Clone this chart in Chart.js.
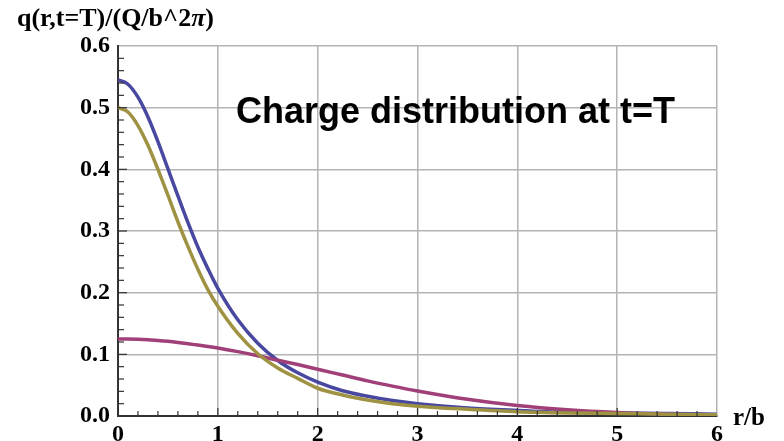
<!DOCTYPE html>
<html>
<head>
<meta charset="utf-8">
<title>Charge distribution at t=T</title>
<script src="https://cdn.jsdelivr.net/npm/chart.js@4.4.1/dist/chart.umd.min.js"></script>
<style>
  html, body { margin: 0; padding: 0; background: #fff; }
  canvas { display: block; }
</style>
</head>
<body>
<canvas id="chargeChart" width="784" height="441"></canvas>
<script>
// -------------------------------------
// Data (r/b vs q)
// -------------------------------------
const rValues = [0, 0.1, 0.2, 0.3, 0.4, 0.5, 0.6, 0.7, 0.8, 0.9, 1.0, 1.2, 1.4, 1.6, 1.8, 2.0,
  2.25, 2.5, 2.75, 3.0, 3.5, 4.0, 4.5, 5.0, 5.5, 6.0];

const blueValues = [0.545, 0.538, 0.517, 0.485, 0.445, 0.401, 0.357, 0.314, 0.274, 0.239, 0.207,
  0.156, 0.118, 0.090, 0.070, 0.055,
  0.041, 0.032, 0.025, 0.020, 0.013, 0.009, 0.006, 0.005, 0.004, 0.003];

const goldValues = [0.500, 0.493, 0.471, 0.439, 0.400, 0.358, 0.315, 0.275, 0.238, 0.205, 0.178,
  0.134, 0.101, 0.078, 0.061, 0.045,
  0.034, 0.026, 0.020, 0.016, 0.011, 0.007, 0.005, 0.004, 0.003, 0.002];

const purpleValues = [0.1250, 0.1248, 0.1244, 0.1236, 0.1225, 0.1211, 0.1193, 0.1172, 0.1150, 0.1128, 0.1103,
  0.1044, 0.0978, 0.0904, 0.0834, 0.0758,
  0.0664, 0.0570, 0.0485, 0.0406, 0.0271, 0.0169, 0.0100, 0.0055, 0.0028, 0.0014];

const xTicks = [0, 1, 2, 3, 4, 5, 6];
const yTicks = [0.0, 0.1, 0.2, 0.3, 0.4, 0.5, 0.6];

const xMinorPerMajor = 5;   // minor tick every 0.2
const yMinorPerMajor = 5;   // minor tick every 0.02

function toPoints(ys) {
  return rValues.map((r, i) => ({ x: r, y: ys[i] }));
}

const serif = "'Liberation Serif', 'Times New Roman', serif";
const sans = "'Liberation Sans', Arial, sans-serif";

// -------------------------------------
// Extra drawing: minor ticks + texts
// -------------------------------------
const decorations = {
  id: "decorations",
  afterDatasetsDraw(chart) {
    const ctx = chart.ctx;
    const xs = chart.scales.x;
    const ys = chart.scales.y;
    const area = chart.chartArea;

    ctx.save();
    ctx.strokeStyle = "#333";
    ctx.lineWidth = 1.2;

    // bottom axis ticks (pointing up)
    for (let i = 0; i < xTicks.length - 1; i++) {
      for (let k = 0; k < xMinorPerMajor; k++) {
        const v = xTicks[i] + (xTicks[i + 1] - xTicks[i]) * k / xMinorPerMajor;
        const px = xs.getPixelForValue(v);
        const len = k === 0 ? 8 : 5;
        ctx.beginPath();
        ctx.moveTo(px, area.bottom);
        ctx.lineTo(px, area.bottom - len);
        ctx.stroke();
      }
    }

    // left axis ticks (pointing right)
    for (let i = 0; i < yTicks.length - 1; i++) {
      for (let k = 0; k < yMinorPerMajor; k++) {
        const v = yTicks[i] + (yTicks[i + 1] - yTicks[i]) * k / yMinorPerMajor;
        const py = ys.getPixelForValue(v);
        const len = k === 0 ? 9 : 6;
        ctx.beginPath();
        ctx.moveTo(area.left, py);
        ctx.lineTo(area.left + len, py);
        ctx.stroke();
      }
    }

    // y axis title
    ctx.fillStyle = "#000";
    ctx.textBaseline = "alphabetic";
    ctx.textAlign = "left";
    let tx = 17;
    const ty = 26;
    ctx.font = "bold 26px " + serif;
    const head = "q(r,t=T)/(Q/b^2";
    ctx.fillText(head, tx, ty);
    tx += ctx.measureText(head).width;
    ctx.font = "italic bold 26px " + serif;
    ctx.fillText("\u03C0", tx, ty);
    tx += ctx.measureText("\u03C0").width;
    ctx.font = "bold 26px " + serif;
    ctx.fillText(")", tx, ty);

    // x axis title
    ctx.font = "bold 25px " + serif;
    ctx.fillText("r/b", 733, 425);

    // plot label
    ctx.font = "bold 36px " + sans;
    ctx.fillText("Charge distribution at t=T", 236, 123);

    ctx.restore();
  }
};

const ctx = document.getElementById("chargeChart");

const chargeChart = new Chart(ctx, {
  type: "line",
  data: {
    datasets: [
      {
        label: "gold",
        data: toPoints(goldValues),
        borderColor: "#9f9243",
        borderWidth: 3.5,
        pointRadius: 0,
        cubicInterpolationMode: "monotone",
        fill: false
      },
      {
        label: "purple",
        data: toPoints(purpleValues),
        borderColor: "#a13f78",
        borderWidth: 3.5,
        pointRadius: 0,
        cubicInterpolationMode: "monotone",
        fill: false
      },
      {
        label: "blue",
        data: toPoints(blueValues),
        borderColor: "#4848a0",
        borderWidth: 3.5,
        pointRadius: 0,
        cubicInterpolationMode: "monotone",
        fill: false
      }
    ]
  },
  options: {
    responsive: false,
    animation: false,
    layout: {
      padding: { top: 46, right: 67, left: 0, bottom: 0 }
    },
    plugins: {
      legend: { display: false },
      tooltip: { enabled: false }
    },
    scales: {
      x: {
        type: "linear",
        min: 0,
        max: 6,
        afterBuildTicks: (scale) => {
          scale.ticks = xTicks.map((v) => ({ value: v }));
        },
        afterFit: (scale) => { scale.height = 25; },
        grid: { color: "#b4b4b4", lineWidth: 1.5, drawTicks: false },
        border: { display: true, color: "#333", width: 2 },
        ticks: {
          padding: 4,
          color: "#000",
          font: { family: serif, weight: "bold", size: 24 },
          callback: (v) => String(v)
        }
      },
      y: {
        type: "linear",
        min: 0,
        max: 0.6,
        afterBuildTicks: (scale) => {
          scale.ticks = yTicks.map((v) => ({ value: v }));
        },
        afterFit: (scale) => { scale.width = 118; },
        grid: { color: "#b4b4b4", lineWidth: 1.5, drawTicks: false },
        border: { display: true, color: "#333", width: 2 },
        ticks: {
          padding: 8,
          color: "#000",
          font: { family: serif, weight: "bold", size: 24 },
          callback: (v) => Number(v).toFixed(1)
        }
      }
    }
  },
  plugins: [decorations]
});
</script>
</body>
</html>
